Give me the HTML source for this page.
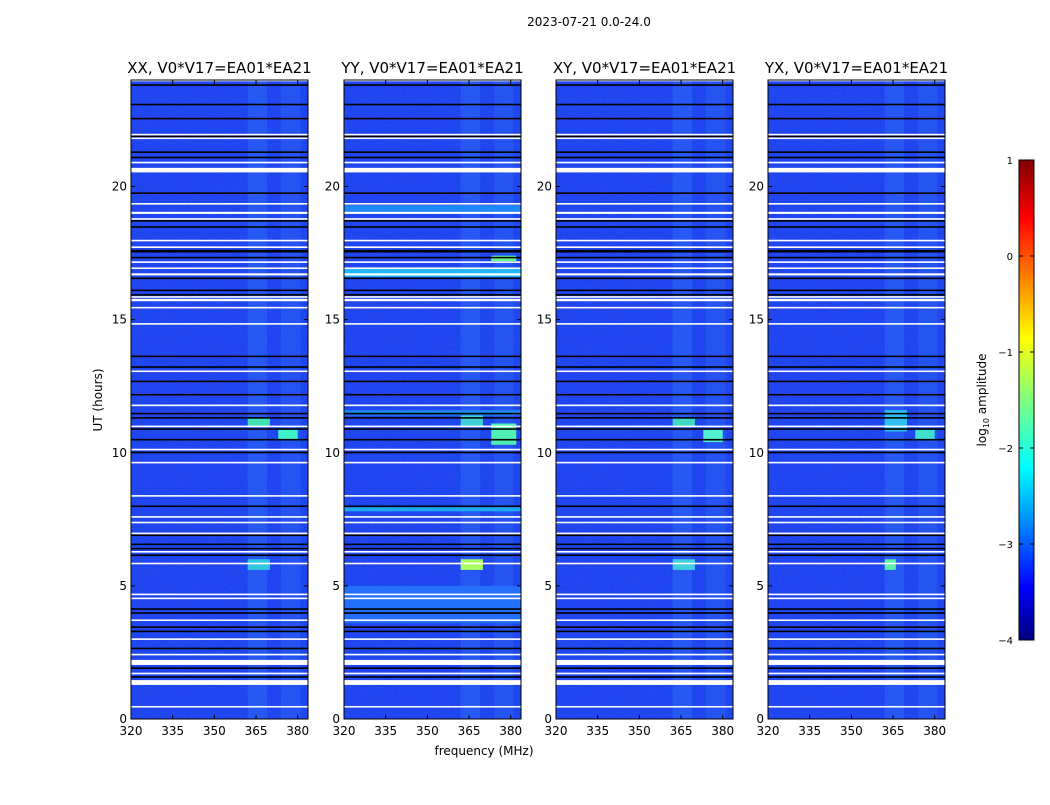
<!DOCTYPE html>
<html><head><meta charset="utf-8"><style>
body{margin:0;background:#fff;}
svg{font-family:"DejaVu Sans","Liberation Sans",sans-serif;}
</style></head><body>
<svg id="chart" width="1050" height="800" viewBox="0 0 1050 800">
<text x="589" y="26" font-size="12" text-anchor="middle">2023-07-21 0.0-24.0</text>
<text x="484" y="755" font-size="12" text-anchor="middle">frequency (MHz)</text>
<text transform="translate(102,400) rotate(-90)" font-size="12" text-anchor="middle">UT (hours)</text>
<defs>
<linearGradient id="jet" x1="0" y1="1" x2="0" y2="0">
<stop offset="0" stop-color="#00007f"/><stop offset="0.11" stop-color="#0000ff"/><stop offset="0.36" stop-color="#00ffff"/>
<stop offset="0.5" stop-color="#7fff7f"/><stop offset="0.63" stop-color="#ffff00"/><stop offset="0.88" stop-color="#ff0000"/><stop offset="1" stop-color="#7f0000"/>
</linearGradient>
<filter id="noise" x="0" y="0" width="100%" height="100%"><feTurbulence type="fractalNoise" baseFrequency="0.7" numOctaves="2" seed="3"/><feColorMatrix values="0 0 0 0 0.05  0 0 0 0 0.1  0 0 0 0 0.8  0 0 0 -2 1.1"/></filter>
</defs>
<g id="panels"></g>
<g>
<rect x="1019" y="160" width="15" height="480" fill="url(#jet)" stroke="#000" stroke-width="1"/>
<g id="cbticks"></g>
<text transform="translate(986,400) rotate(-90)" font-size="12" text-anchor="middle">log<tspan font-size="8" dy="3">10</tspan><tspan dy="-3"> amplitude</tspan></text>
</g>
</svg>
<script>
const panelTitles=["XX, V0*V17=EA01*EA21","YY, V0*V17=EA01*EA21","XY, V0*V17=EA01*EA21","YX, V0*V17=EA01*EA21"];
const xTicks=[320,335,350,365,380];
const yTicks=[0,5,10,15,20];
const cbTicks=[-4,-3,-2,-1,0,1];
const whiteGaps=[[23.95,24],[21.92,21.98],[21.78,21.84],[20.87,20.93],[20.53,20.7],[19.32,19.38],[18.97,19.05],[18.75,18.81],[17.94,18.0],[17.69,17.75],[17.13,17.19],[16.9,16.96],[16.66,16.74],[15.82,15.88],[15.69,15.78],[15.42,15.48],[14.81,14.87],[13.03,13.09],[11.75,11.81],[10.96,11.02],[10.09,10.15],[9.6,9.66],[8.35,8.41],[7.56,7.62],[7.35,7.41],[6.94,7.0],[6.25,6.31],[5.81,5.87],[4.65,4.71],[4.5,4.56],[3.68,3.74],[2.97,3.03],[2.39,2.45],[2.03,2.22],[1.68,1.74],[1.28,1.46],[0.43,0.49]];
const blackGaps=[[23.78,23.84],[23.05,23.11],[22.52,22.58],[21.85,21.91],[21.26,21.32],[21.06,21.12],[19.72,19.78],[18.68,18.74],[18.45,18.51],[17.52,17.62],[17.3,17.36],[16.52,16.58],[16.07,16.13],[15.9,15.96],[13.59,13.65],[13.19,13.25],[12.65,12.71],[12.15,12.21],[11.44,11.5],[11.28,11.34],[10.86,10.92],[10.46,10.52],[9.98,10.04],[7.96,8.02],[6.87,6.93],[6.53,6.59],[6.37,6.43],[6.12,6.18],[4.1,4.16],[3.95,4.01],[3.42,3.48],[3.26,3.32],[2.62,2.68],[1.88,1.94],[1.55,1.61]];
const bands=[[362,369,"#2458f4"],[374,381,"#2254f2"]];
const patches=[
 [[362,370,11.0,11.3,"#40e0b0"],[373,380,10.5,10.9,"#40f0c8"],[362,370,5.6,6.0,"#30c8e0"]],
 [[320,384,16.6,16.9,"#20b8ff"],[320,384,19.05,19.3,"#2088ff"],[320,384,3.6,5.0,"#2470fa"],[320,384,7.8,7.95,"#20a8f8"],[320,384,11.4,11.6,"#2088f4"],[362,370,5.6,6.0,"#a8ff60"],[373,382,10.3,11.1,"#50f0b0"],[362,370,11.0,11.4,"#40d0d8"],[373,382,17.2,17.4,"#60ff90"]],
 [[362,370,11.0,11.3,"#40d8c0"],[373,380,10.4,10.9,"#50f0d0"],[362,370,5.6,6.0,"#40d0e0"]],
 [[362,370,10.8,11.6,"#30c0f0"],[373,380,10.5,10.9,"#40e0d0"],[362,366,5.6,6.0,"#60f0a8"]]
];
const F0=320,F1=383.7,H0=0,H1=24;
const lefts=[131,344,556,768],PW=177,TOP=80,BOT=719;
const NS="http://www.w3.org/2000/svg";
function mk(tag,attrs,parent){const e=document.createElementNS(NS,tag);for(const k in attrs)e.setAttribute(k,attrs[k]);parent.appendChild(e);return e;}
const root=document.getElementById("panels");
lefts.forEach((L,p)=>{
 const xs=f=>L+(f-F0)/(F1-F0)*PW;
 const ys=h=>BOT-(h-H0)/(H1-H0)*(BOT-TOP);
 const g=mk("g",{},root);
 
 
 const bg=mk("rect",{x:L,y:TOP,width:PW,height:BOT-TOP,fill:"#1c44f0"},g);
 
 
 bands.forEach(b=>{const r=mk("rect",{x:xs(b[0]),y:TOP,width:xs(b[1])-xs(b[0]),height:BOT-TOP,fill:b[2]},g);
  
  });
 const nz=mk("rect",{x:L,y:TOP,width:PW,height:BOT-TOP,filter:"url(#noise)",opacity:0.7},g);
 
 
 patches[p].forEach(q=>{const r=mk("rect",{x:xs(q[0]),y:ys(q[3]),width:xs(Math.min(q[1],F1))-xs(q[0]),height:ys(q[2])-ys(q[3]),fill:q[4]},g);
  
  });
 blackGaps.forEach(q=>{const r=mk("rect",{x:L,y:ys(q[1]),width:PW,height:Math.max(1.2,ys(q[0])-ys(q[1])),fill:"#000"},g);
  
  });
 whiteGaps.forEach(q=>{const r=mk("rect",{x:L,y:ys(q[1]),width:PW,height:Math.max(1.2,ys(q[0])-ys(q[1])),fill:"#fff"},g);
  
  });
 const fr=mk("rect",{x:L,y:TOP,width:PW,height:BOT-TOP,fill:"none",stroke:"#000","stroke-width":1},g);
 
 
 const t=mk("text",{x:L+PW/2,y:TOP-7,"font-size":15,"text-anchor":"middle"},g);t.textContent=panelTitles[p];
 
 
 xTicks.forEach(v=>{const x=xs(v);mk("line",{x1:x,x2:x,y1:BOT,y2:BOT-4,stroke:"#000"},g);mk("line",{x1:x,x2:x,y1:TOP,y2:TOP+4,stroke:"#000"},g);
  const tx=mk("text",{x:x,y:BOT+16,"font-size":12,"text-anchor":"middle"},g);tx.textContent=v;
  
  });
 yTicks.forEach(v=>{const y=ys(v);mk("line",{x1:L,x2:L+4,y1:y,y2:y,stroke:"#000"},g);mk("line",{x1:L+PW,x2:L+PW-4,y1:y,y2:y,stroke:"#000"},g);
  const ty=mk("text",{x:L-4,y:y+4,"font-size":12,"text-anchor":"end"},g);ty.textContent=v;
  
  });
});
const cb=document.getElementById("cbticks");
cbTicks.forEach(v=>{const y=640-(v+4)/5*480;
 mk("line",{x1:1019,x2:1023,y1:y,y2:y,stroke:"#000"},cb);mk("line",{x1:1034,x2:1030,y1:y,y2:y,stroke:"#000"},cb);
 const t=mk("text",{x:1013,y:y+4,"font-size":10,"text-anchor":"end"},cb);t.textContent=v<0?"\u2212"+(-v):v;
 
 });
</script>
</body></html>
